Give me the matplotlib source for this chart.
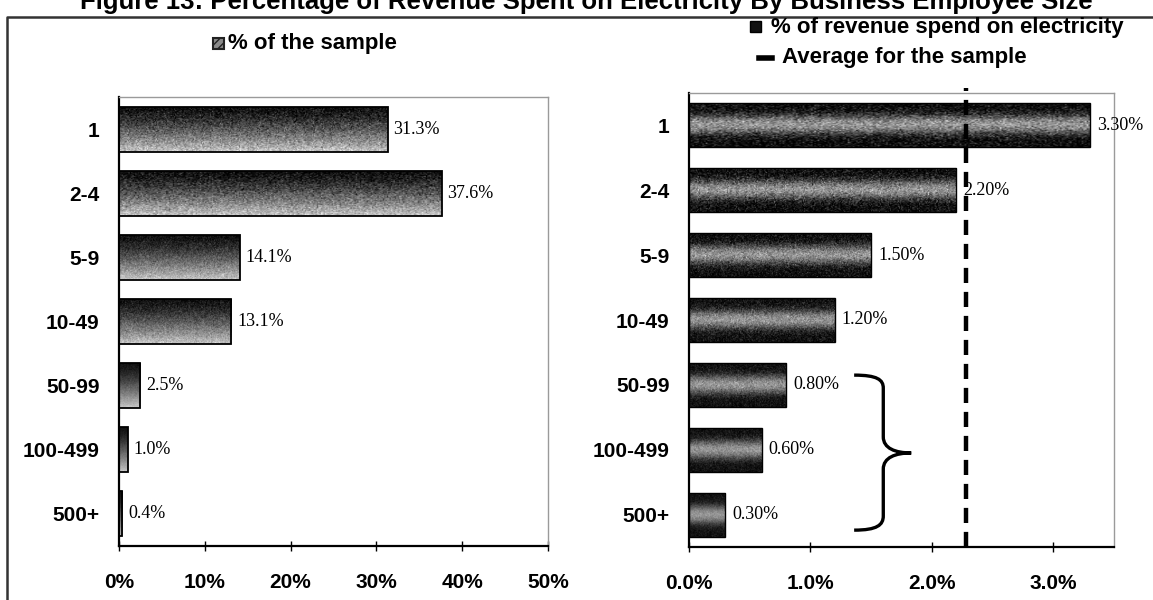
import numpy as np
import matplotlib
matplotlib.use("Agg")
import matplotlib.pyplot as plt
from matplotlib.path import Path
from matplotlib.patches import PathPatch, Rectangle
from matplotlib.lines import Line2D

# ---- data -------------------------------------------------------------
categories = ["1", "2-4", "5-9", "10-49", "50-99", "100-499", "500+"]
sample_share = [31.3, 37.6, 14.1, 13.1, 2.5, 1.0, 0.4]           # % of the sample
revenue_share = [3.30, 2.20, 1.50, 1.20, 0.80, 0.60, 0.30]       # % of revenue on electricity
sample_average = 2.28                                            # average for the sample
left_ticks = [0, 10, 20, 30, 40, 50]
right_ticks = [0, 1, 2, 3]
title = "Figure 13: Percentage of Revenue Spent on Electricity By Business Employee Size"

SANS = "Liberation Sans"
SERIF = "Liberation Serif"

W, H = 1153, 600
fig = plt.figure(figsize=(W / 100, H / 100), dpi=100)
fig.patch.set_facecolor("white")


def fx(x):
    return x / W


def fy(y):
    return 1 - y / H


def px_axes(x0, y0, x1, y1):
    return fig.add_axes([fx(x0), fy(y1), (x1 - x0) / W, (y1 - y0) / H])


rng = np.random.default_rng(11)


def fill_gradient(ax, bars, profile, grain):
    """Paint each bar with a vertical grey gradient clipped to the bar."""
    n = len(profile)
    for bar in bars:
        x, y = bar.get_x(), bar.get_y()
        w, h = bar.get_width(), bar.get_height()
        img = np.tile(profile[:, None], (1, 240)) + rng.normal(0, grain, (n, 240))
        img = np.clip(img, 0, 1)
        im = ax.imshow(img, cmap="gray", vmin=0, vmax=1,
                       extent=(x, x + w, y + h, y), aspect="auto",
                       interpolation="bilinear", zorder=2)
        im.set_clip_path(bar)


def style_axes(ax):
    for side in ("left", "bottom"):
        ax.spines[side].set_color("black")
        ax.spines[side].set_linewidth(1.6)
    for side in ("top", "right"):
        ax.spines[side].set_color("#9a9a9a")
        ax.spines[side].set_linewidth(1.0)
    ax.tick_params(axis="y", length=0, pad=14)
    ax.tick_params(axis="x", direction="inout", length=7, width=1, pad=16)
    for lab in ax.get_yticklabels() + ax.get_xticklabels():
        lab.set_fontfamily(SANS)
        lab.set_fontweight("bold")
        lab.set_fontsize(15)


ypos = np.arange(len(categories))
t = np.linspace(0, 1, 60)

# ---- left panel: share of the sample ----------------------------------
axl = px_axes(119, 97, 548, 546)
bars_l = axl.barh(ypos, sample_share, height=0.7, facecolor="none",
                  edgecolor="black", linewidth=1.3, zorder=3)
profile_l = 0.04 + 0.74 * t ** 1.25
fill_gradient(axl, bars_l, profile_l, 0.11)
for i, v in enumerate(sample_share):
    axl.annotate(f"{v:.1f}%", (v, i), xytext=(4, 0), textcoords="offset points",
                 ha="left", va="center", fontsize=13, family=SERIF, zorder=4)
axl.set_xlim(0, 50)
axl.set_ylim(len(categories) - 0.5, -0.5)
axl.set_yticks(ypos, categories)
axl.set_xticks(left_ticks, [f"{v}%" for v in left_ticks])
style_axes(axl)

# ---- right panel: revenue spent on electricity -------------------------
axr = px_axes(689, 93, 1114, 547)
bars_r = axr.barh(ypos, revenue_share, height=0.68, facecolor="none",
                  edgecolor="black", linewidth=1.0, zorder=3)
profile_r = 0.04 + 0.55 * np.sin(np.pi * t) ** 4
fill_gradient(axr, bars_r, profile_r, 0.13)
for i, v in enumerate(revenue_share):
    axr.annotate(f"{v:.2f}%", (v, i), xytext=(5, 0), textcoords="offset points",
                 ha="left", va="center", fontsize=13, family=SERIF, zorder=4)
axr.axvline(sample_average, ymin=0, ymax=1.01, color="black", linewidth=3.2,
            linestyle=(0, (3.4, 2.0)), clip_on=False, zorder=5)

# brace grouping the three largest size classes
brace = Path(
    [(1.36, 3.85),
     (1.55, 3.85), (1.60, 3.92), (1.60, 4.05),
     (1.60, 4.80),
     (1.60, 4.98), (1.70, 5.05), (1.83, 5.05),
     (1.70, 5.05), (1.60, 5.12), (1.60, 5.30),
     (1.60, 6.02),
     (1.60, 6.16), (1.55, 6.24), (1.36, 6.24)],
    [Path.MOVETO,
     Path.CURVE4, Path.CURVE4, Path.CURVE4,
     Path.LINETO,
     Path.CURVE4, Path.CURVE4, Path.CURVE4,
     Path.CURVE4, Path.CURVE4, Path.CURVE4,
     Path.LINETO,
     Path.CURVE4, Path.CURVE4, Path.CURVE4])
axr.add_patch(PathPatch(brace, facecolor="none", edgecolor="black",
                        linewidth=2.4, zorder=4))

axr.set_xlim(0, 3.5)
axr.set_ylim(len(categories) - 0.5, -0.5)
axr.set_yticks(ypos, categories)
axr.set_xticks(right_ticks, [f"{v:.1f}%" for v in right_ticks])
style_axes(axr)

# ---- legends ----------------------------------------------------------
def fig_rect(x0, y0, x1, y1, **kw):
    fig.patches.append(Rectangle((fx(x0), fy(y1)), (x1 - x0) / W, (y1 - y0) / H,
                                 transform=fig.transFigure, figure=fig, **kw))


fig_rect(213, 38, 224, 49, facecolor="#8a8a8a", edgecolor="#222222",
         linewidth=1.5, hatch="////")
fig.text(fx(228), fy(44), "% of the sample", ha="left", va="center",
         fontsize=16, family=SANS, weight="bold")

fig_rect(750, 21, 761, 32, facecolor="#111111", edgecolor="black", linewidth=1)
fig.text(fx(771), fy(27), "% of revenue spend on electricity", ha="left",
         va="center", fontsize=16, family=SANS, weight="bold")
fig.lines.append(Line2D([fx(759), fx(772)], [fy(58), fy(58)], color="black",
                        linewidth=4, transform=fig.transFigure))
fig.text(fx(782), fy(58), "Average for the sample", ha="left", va="center",
         fontsize=16, family=SANS, weight="bold")

# ---- title and page frame --------------------------------------------
fig.text(fx(586), fy(9), title, ha="center", va="baseline", fontsize=18.5,
         family=SANS, weight="bold")
fig.lines.append(Line2D([fx(7), fx(7), fx(1153)], [fy(610), fy(17), fy(17)],
                        color="#333333", linewidth=1.8,
                        transform=fig.transFigure))

fig.savefig("out.png", dpi=100, facecolor="white")
